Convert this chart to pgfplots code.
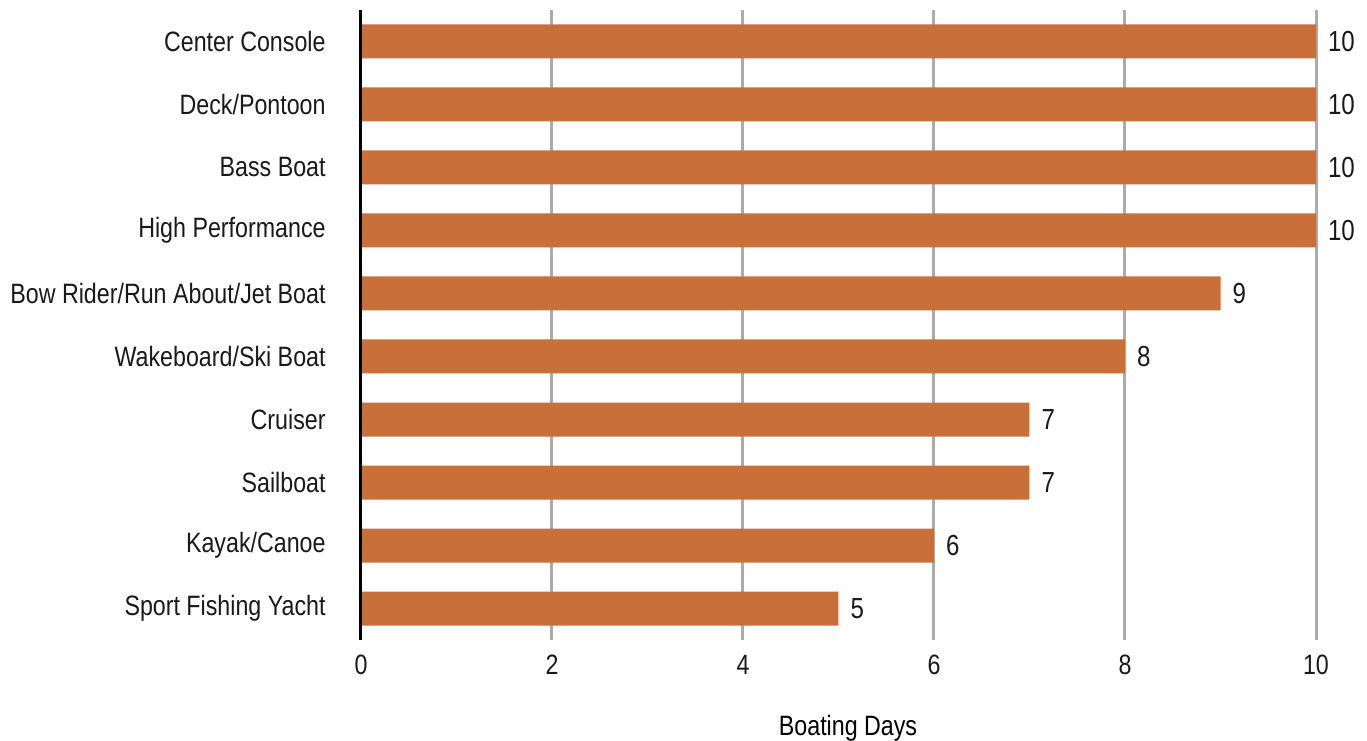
\documentclass[border=0pt]{standalone}
\usepackage{pgfplots}
\pgfplotsset{compat=1.18}
\usepackage{fontspec}
\setmainfont[FakeStretch=0.83]{Liberation Sans}
\definecolor{barc}{RGB}{201,111,58}
\begin{document}
\begin{tikzpicture}
\begin{axis}[
  xbar, scale only axis, width=477.5pt, height=315pt,
  xmin=0, xmax=10, ymin=-0.5, ymax=9.5,
  clip=false,
  /pgf/number format/assume math mode=true,
  ytick={0,...,9},
  yticklabels={Sport Fishing Yacht, Kayak/Canoe, Sailboat, Cruiser, Wakeboard/Ski Boat, Bow Rider/Run About/Jet Boat, High Performance, Bass Boat, Deck/Pontoon, Center Console},
  xtick={0,2,4,6,8,10},
  major tick length=0pt,
  axis line style={draw=none},
  xmajorgrids, grid style={line width=1.5pt, color=black!33},
  font=\fontsize{14}{16}\selectfont,
  tick label style={font=\fontsize{14}{16}\selectfont, text=black!90},
  yticklabel style={inner sep=0pt, xshift=-17.5pt},
  xticklabel style={inner sep=0pt, yshift=-7.5pt},
  xlabel={Boating Days},
  xlabel style={at={(axis description cs:0.51,0)}, anchor=north, inner sep=0pt, yshift=-37.5pt, font=\fontsize{14}{16}\selectfont},
  bar width=17pt,
  nodes near coords,
  nodes near coords style={anchor=west, xshift=2.5pt, font=\fontsize{14.5}{16}\selectfont, text=black!90},
]
\addplot[fill=barc, draw=none] coordinates {(5,0) (6,1) (7,2) (7,3) (8,4) (9,5) (10,6) (10,7) (10,8) (10,9)};
\draw[black, line width=1.5pt] (axis cs:0,-0.5) -- (axis cs:0,9.5);
\coordinate (bl) at (rel axis cs:0,0);
\coordinate (tr) at (rel axis cs:1,1);
\end{axis}
\pgfresetboundingbox
\path[use as bounding box] ([xshift=-180.5pt,yshift=-50pt]bl) rectangle ([xshift=25.5pt,yshift=5pt]tr);
\end{tikzpicture}
\end{document}
